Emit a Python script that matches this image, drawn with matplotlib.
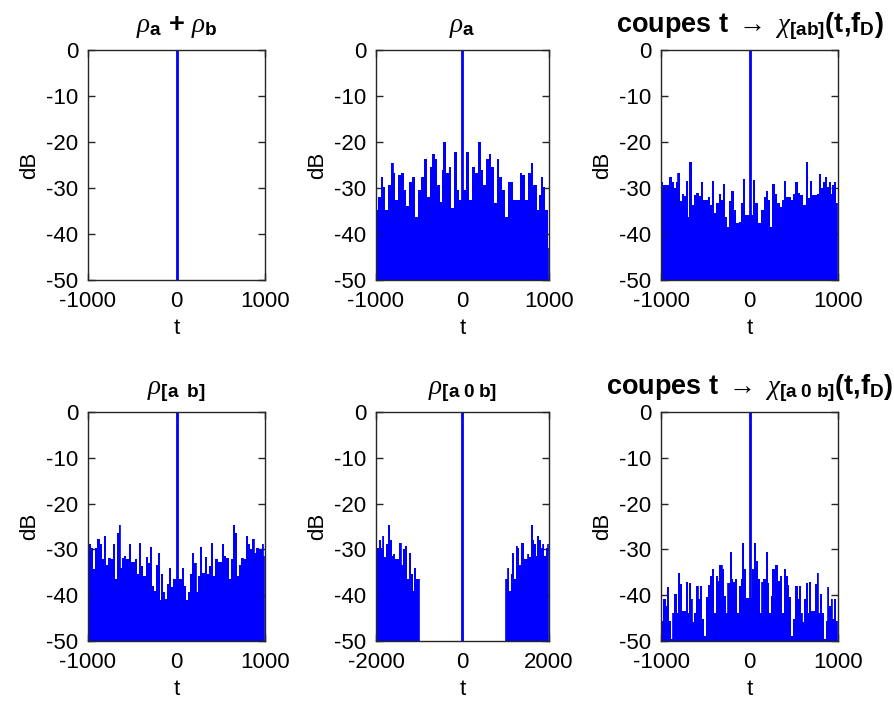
import matplotlib
matplotlib.use("Agg")
import matplotlib.pyplot as plt
import numpy as np

plt.rcParams["font.family"] = ["Liberation Sans", "DejaVu Sans"]
plt.rcParams["mathtext.fontset"] = "custom"
plt.rcParams["mathtext.rm"] = "Liberation Sans"
plt.rcParams["mathtext.it"] = "Liberation Serif:italic"
plt.rcParams["mathtext.bf"] = "Liberation Sans:bold"
plt.rcParams["axes.unicode_minus"] = False
plt.rcParams["font.size"] = 16

BLUE = (0, 0, 1)
AXC = "#262626"

# main lobe (normalised)
peak_t = 0
peak_db = 0

# rho_a sidelobes
ra_t = [-992, -954, -934, -915, -884, -846, -807, -792, -769, -730, -684, -665,
        -638, -599, -568, -530, -491, -460, -426, -395, -368, -337, -310, -279,
        -252, -229, -214, -175, -144, -114, -75, -48, -29,
        29, 60, 87, 133, 164, 202, 222, 260, 287, 318, 345, 376, 414, 441, 472,
        511, 542, 576, 596, 646, 673, 703, 742, 781, 800, 838, 877, 896, 923,
        946, 973, 993]
ra_db = [-34.8, -31.9, -27.7, -29.7, -34.8, -29.3, -24.5, -26.8, -32.6, -27.2,
         -26.7, -30.4, -34.0, -28.6, -27.5, -36.2, -30.4, -27.5, -23.6, -31.9,
         -25.4, -22.6, -23.6, -29.3, -33.0, -26.1, -19.9, -26.8, -25.5, -34.4,
         -22.1, -30.4, -32.6,
         -30.4, -22.1, -32.6, -25.4, -26.8, -19.9, -26.1, -29.3, -23.8, -22.6,
         -25.4, -33.3, -23.6, -27.5, -30.4, -36.2, -28.6, -28.6, -32.6, -32.6,
         -26.7, -27.2, -32.6, -26.8, -24.5, -29.3, -34.8, -31.5, -27.7, -29.7,
         -34.8, -43.1]

# chi_[ab] cut
xab_t = [-992, -962, -925, -887, -861, -842, -823, -804, -774, -755, -736, -710,
         -691, -665, -635, -616, -586, -559, -541, -510, -484, -458, -435, -409,
         -390, -367, -333, -315, -288, -269, -247, -220, -194, -164, -134, -104,
         -81, -62, -43,
         24, 51, 81, 118, 145, 175, 194, 220, 243, 269, 296, 326, 356, 382, 401,
         431, 457, 484, 506, 533, 559, 589, 616, 653, 672, 695, 721, 751, 778,
         796, 815, 842, 860, 883, 909, 928, 947, 966, 985]
xab_db = [-28.6, -29.3, -29.3, -27.7, -28.6, -30.1, -28.6, -26.8, -32.8, -31.3,
          -31.7, -28.5, -36.2, -24.4, -33.7, -31.5, -31.0, -31.7, -28.6, -32.5,
          -32.5, -32.0, -33.7, -28.5, -35.5, -33.3, -31.3, -32.6, -29.1, -36.2,
          -38.5, -32.8, -30.6, -34.8, -37.7, -37.3, -33.3, -28.1, -35.9,
          -35.9, -28.3, -33.3, -37.7, -34.8, -31.9, -30.6, -32.6, -38.5, -29.1,
          -31.3, -33.3, -34.2, -32.6, -28.4, -31.9, -32.0, -32.5, -31.2, -28.7,
          -31.0, -31.5, -33.7, -24.4, -32.2, -28.5, -31.5, -31.5, -31.3, -27.0,
          -29.9, -28.7, -27.7, -29.7, -28.7, -31.2, -29.3, -28.7, -33.3]

# rho_[a b]
rab_t = [-985, -958, -932, -909, -883, -856, -826, -807, -780, -758, -731, -705,
         -682, -663, -644, -629, -606, -580, -553, -530, -504, -477, -455, -428,
         -409, -390, -364, -333, -314, -288, -265, -239, -220, -201, -182, -163,
         -136, -114, -98, -76, -49, -30,
         27, 45, 72, 91, 121, 140, 159, 189, 216, 235, 258, 280, 303, 330, 348,
         379, 405, 424, 455, 481, 500, 530, 545, 576, 606, 633, 652, 671, 689,
         720, 746, 765, 795, 822, 841, 871, 886, 917, 947, 974, 992]
rab_db = [-28.9, -29.6, -34.3, -29.6, -27.8, -28.9, -32.2, -27.1, -33.3, -31.8,
          -32.2, -28.9, -36.5, -26.4, -24.6, -34.0, -31.8, -31.4, -32.2, -28.9,
          -32.8, -32.8, -32.2, -35.4, -28.7, -33.6, -35.8, -31.6, -32.9, -29.4,
          -38.0, -39.1, -33.3, -30.7, -41.0, -35.4, -39.4, -40.9, -37.6, -34.0,
          -38.3, -36.5,
          -36.5, -36.5, -34.0, -38.0, -41.0, -39.4, -35.4, -30.7, -32.9, -39.4,
          -35.8, -29.4, -35.1, -31.6, -35.4, -33.6, -28.7, -35.8, -32.2, -32.8,
          -32.8, -28.9, -31.4, -31.8, -36.5, -32.2, -24.6, -26.4, -35.8, -33.3,
          -31.8, -32.2, -27.1, -28.9, -30.0, -27.8, -30.7, -29.6, -30.0, -28.9,
          -31.4]

# rho_[a 0 b]: two side clusters, nothing in between
r0_left_t = [-2000, -1946, -1908, -1869, -1830, -1792, -1738, -1692, -1661,
             -1615, -1584, -1538, -1484, -1430, -1391, -1353, -1306, -1252,
             -1214, -1175, -1137, -1098, -1060, -1014]
r0_left_db = [-28.9, -29.6, -28.0, -29.6, -27.1, -31.6, -28.9, -24.6, -28.0,
              -31.4, -31.1, -32.2, -32.2, -28.7, -33.3, -30.0, -29.3, -36.5,
              -30.7, -35.4, -39.1, -34.0, -36.5, -36.5]
r0_right_t = [1006, 1037, 1060, 1098, 1137, 1175, 1214, 1252, 1291, 1329, 1368,
              1407, 1445, 1484, 1522, 1561, 1599, 1638, 1676, 1715, 1753, 1792,
              1831, 1869, 1908, 1946, 1985]
r0_right_db = [-36.5, -36.5, -34.0, -39.1, -35.4, -30.7, -36.5, -29.3, -29.6,
               -33.3, -28.7, -28.5, -32.2, -32.2, -31.1, -31.6, -24.6, -28.0,
               -28.9, -31.4, -27.1, -28.0, -29.6, -28.9, -31.4, -29.6, -28.9]

# chi_[a 0 b] cut
x0_t = [-985, -962, -936, -925, -898, -879, -861, -834, -812, -797, -774, -748,
        -729, -710, -691, -672, -654, -635, -616, -586, -567, -548, -522, -503,
        -484, -458, -435, -416, -397, -371, -352, -333, -315, -296, -277, -258,
        -239, -209, -194, -171, -153, -134, -107, -89, -70, -51, -32,
        24, 43, 62, 81, 107, 130, 145, 168, 194, 213, 232, 250, 269, 296, 314,
        333, 356, 382, 401, 420, 439, 457, 484, 506, 533, 552, 570, 589, 608,
        627, 646, 665, 683, 702, 729, 747, 770, 789, 808, 827, 853, 872, 891,
        909, 928, 947, 966, 985]
x0_db = [-45.6, -40.9, -42.3, -38.3, -45.6, -49.6, -43.8, -39.8, -43.8, -35.1,
         -37.6, -43.4, -43.4, -37.2, -43.8, -37.4, -40.9, -45.9, -43.8, -38.0,
         -40.9, -38.1, -45.2, -48.8, -40.5, -37.8, -35.8, -34.3, -43.8, -35.8,
         -36.9, -33.3, -33.5, -34.3, -40.1, -43.8, -37.4, -30.6, -36.5, -37.2,
         -36.4, -43.8, -38.0, -36.5, -28.7, -34.3, -40.7,
         -40.7, -34.3, -28.7, -32.5, -36.5, -43.8, -37.2, -36.4, -30.6, -37.4,
         -43.8, -40.1, -34.3, -33.5, -33.3, -36.9, -35.8, -43.8, -34.3, -35.8,
         -37.8, -40.5, -48.8, -45.2, -38.1, -40.9, -38.1, -43.8, -45.9, -40.9,
         -37.4, -43.8, -37.2, -43.4, -43.4, -37.6, -35.1, -43.8, -39.8, -43.8,
         -49.6, -45.6, -38.3, -42.3, -40.9, -45.2, -40.9, -45.6]

titles = [
    r"$\rho_{\mathbf{a}}$ + $\rho_{\mathbf{b}}$",
    r"$\rho_{\mathbf{a}}$",
    r"coupes t $\rightarrow$ $\chi_{\mathbf{[ab]}}$(t,f$_{\mathbf{D}}$)",
    r"$\rho_{\mathbf{[a\ \ b]}}$",
    r"$\rho_{\mathbf{[a\ 0\ b]}}$",
    r"coupes t $\rightarrow$ $\chi_{\mathbf{[a\ 0\ b]}}$(t,f$_{\mathbf{D}}$)",
]

fig = plt.figure(figsize=(8.95, 7.17), dpi=100)
W, H = 895, 717
boxes = [(88, 50, 265, 280), (376, 50, 549, 280), (661, 50, 838, 280),
         (88, 412, 265, 641), (376, 412, 549, 641), (661, 412, 838, 641)]
axes = []
for (x0, y0, x1, y1) in boxes:
    axes.append(fig.add_axes([x0 / W, 1 - y1 / H, (x1 - x0) / W, (y1 - y0) / H]))


def sidelobes(ax, t, db):
    ax.fill_between(t, -50, db, step="mid", color=BLUE, lw=0)
    ax.vlines(t, -50, db, color=BLUE, lw=1.2)


def mainlobe(ax):
    ax.vlines(peak_t, -50, peak_db, color=BLUE, lw=2)


mainlobe(axes[0])

sidelobes(axes[1], ra_t, ra_db)
mainlobe(axes[1])

sidelobes(axes[2], xab_t, xab_db)
mainlobe(axes[2])

sidelobes(axes[3], rab_t, rab_db)
mainlobe(axes[3])

sidelobes(axes[4], r0_left_t, r0_left_db)
sidelobes(axes[4], r0_right_t, r0_right_db)
mainlobe(axes[4])

sidelobes(axes[5], x0_t, x0_db)
mainlobe(axes[5])

for i, ax in enumerate(axes):
    lim = 2000 if i == 4 else 1000
    ax.set_xlim(-lim, lim)
    ax.set_xticks([-lim, 0, lim])
    ax.set_ylim(-50, 0)
    ax.set_yticks([-50, -40, -30, -20, -10, 0])
    ax.set_xlabel("t", labelpad=4)
    ax.set_ylabel("dB", labelpad=4)
    ax.set_title(titles[i], fontweight="bold", fontsize=19.5, pad=13)
    ax.tick_params(direction="in", length=5, width=1, top=True, right=True,
                   color=AXC, labelcolor="black", labelsize=16)
    ax.tick_params(axis="x", pad=8)
    ax.tick_params(axis="y", pad=7)
    for s in ax.spines.values():
        s.set_color(AXC)
        s.set_linewidth(1.0)
    ax.set_facecolor("white")

fig.savefig("out.png", dpi=100)
